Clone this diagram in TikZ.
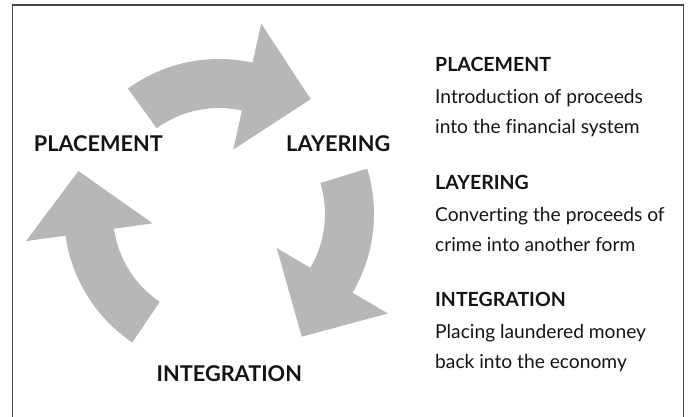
\documentclass[tikz,border=0pt]{standalone}
\usepackage{fontspec}
\setmainfont{Lato}[Ligatures=NoCommon]
\definecolor{arrowgray}{RGB}{183,183,183}
\definecolor{framegray}{RGB}{70,70,70}
\definecolor{inkblack}{RGB}{20,20,20}
\begin{document}
\begin{tikzpicture}[x=1pt,y=1pt,
  cyclearrow/.style={fill=arrowgray},
  biglabel/.style={inner sep=0pt,anchor=base,font=\fontsize{21.7}{21.7}\selectfont\bfseries,text=inkblack},
  headline/.style={inner sep=0pt,anchor=base west,font=\fontsize{19.5}{19.5}\selectfont\bfseries,text=inkblack},
  bodyline/.style={inner sep=0pt,anchor=base west,font=\fontsize{19.2}{19.2}\selectfont,text=inkblack}]
\useasboundingbox (0,0) rectangle (688,417);

% open frame (bottom edge runs off the page)
\draw[framegray,line width=1.4pt] (12.7,-2) -- (12.7,412) -- (683.3,412) -- (683.3,-2);

% three curved arrows of the cycle, around a common centre
\begin{scope}[shift={(219,203)}]
  % placement -> layering
  \fill[cyclearrow] (126:155) arc[start angle=126,end angle=77.5,radius=155]
    -- (77.5:195) -- (51.4:147) -- (77.5:66) -- (77.5:106)
    arc[start angle=77.5,end angle=126,radius=106] -- cycle;
  % layering -> integration
  \fill[cyclearrow] (17:155) arc[start angle=17,end angle=-30.5,radius=155]
    -- (-30.5:196) -- (-56:148) -- (-30.5:67) -- (-30.5:106)
    arc[start angle=-30.5,end angle=17,radius=106] -- cycle;
  % integration -> placement
  \fill[cyclearrow] (236:155) arc[start angle=236,end angle=188,radius=155]
    -- (188:195) -- (163:147) -- (188:67) -- (188:106)
    arc[start angle=188,end angle=236,radius=106] -- cycle;
\end{scope}

% stage labels around the cycle
\node[biglabel] (lplace) at (98.3,265.3) {PLACEMENT};
\node[biglabel] (llayer) at (338.3,265.3) {LAYERING};
\node[biglabel] (linteg) at (229.3,35.3) {INTEGRATION};

% explanations on the right
\node[headline] (hplace) at (435,345.3) {PLACEMENT};
\node[bodyline] (bplace1) at (435,313.8) {Introduction of proceeds};
\node[bodyline] (bplace2) at (435,283.8) {into the financial system};

\node[headline] (hlayer) at (435,227) {LAYERING};
\node[bodyline] (blayer1) at (435,195.5) {Converting the proceeds of};
\node[bodyline] (blayer2) at (435,165.5) {crime into another form};

\node[headline] (hinteg) at (435,110.3) {INTEGRATION};
\node[bodyline] (binteg1) at (435,78.8) {Placing laundered money};
\node[bodyline] (binteg2) at (435,48.8) {back into the economy};
\end{tikzpicture}
\end{document}
